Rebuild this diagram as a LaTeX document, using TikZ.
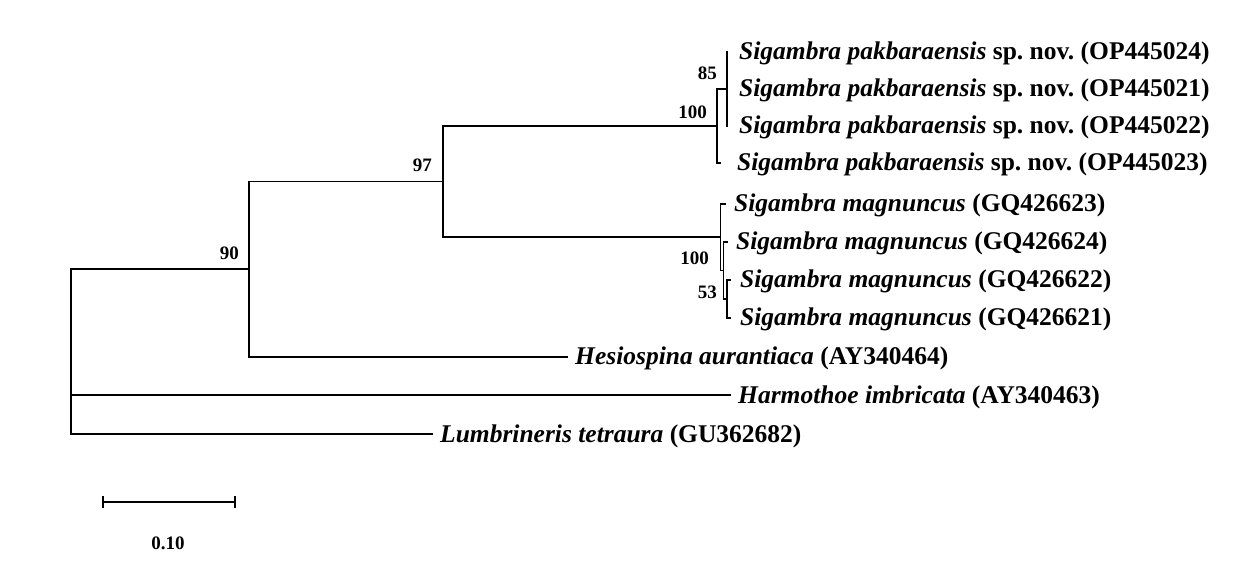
\documentclass[tikz,border=0pt]{standalone}
\usepackage{fontspec}
\setmainfont{Liberation Serif}
\frenchspacing
\begin{document}
\begin{tikzpicture}[x=1pt,y=-1pt,
  branch/.style={line width=1.9pt, line cap=rect},
  taxon/.style={anchor=base west, inner sep=0pt, font=\fontsize{25.5}{28}\selectfont\bfseries},
  boot/.style={anchor=east, inner sep=0pt, font=\fontsize{19}{21}\selectfont\bfseries}]
\useasboundingbox (0,0) rectangle (1240,585);
% tree coordinates
\coordinate (root) at (71,269);
\coordinate (n90) at (249,269);
\coordinate (n97) at (443,181.5);
\coordinate (hes) at (567,357);
\coordinate (pak100) at (717,126);
\coordinate (magn100) at (720.5,237);
\coordinate (n85) at (727,89);
\coordinate (p1) at (727,52);
\coordinate (p2) at (727,89);
\coordinate (p3) at (727,126);
\coordinate (p4) at (720.5,163);
\coordinate (m1) at (725,204);
\coordinate (nX) at (723.5,270.5);
\coordinate (m2) at (727,242);
\coordinate (n53) at (727,299);
\coordinate (m3) at (730.5,280);
\coordinate (m4) at (730.5,318);
\coordinate (harm) at (730,395);
\coordinate (lumb) at (432,434);
% branches
\draw[branch] (root) -- (n90);
\draw[branch] (root) |- (harm);
\draw[branch] (root) |- (lumb);
\draw[branch] (n90) |- (n97);
\draw[branch] (n90) |- (hes);
\draw[branch] (n97) |- (pak100);
\draw[branch] (n97) |- (magn100);
\draw[branch] (pak100) |- (n85);
\draw[branch] (pak100) |- (p4);
\draw[branch] (n85) |- (p1);
\draw[branch] (n85) |- (p3);
\draw[branch] (magn100) |- (m1);
\draw[branch] (magn100) |- (nX);
\draw[branch] (nX) |- (m2);
\draw[branch] (nX) |- (n53);
\draw[branch] (n53) |- (m3);
\draw[branch] (n53) |- (m4);
% taxon labels
\node[taxon] (tp1) at (739,60) {\textit{Sigambra pakbaraensis} sp. nov. (OP445024)};
\node[taxon] (tp2) at (739,97) {\textit{Sigambra pakbaraensis} sp. nov. (OP445021)};
\node[taxon] (tp3) at (739,134) {\textit{Sigambra pakbaraensis} sp. nov. (OP445022)};
\node[taxon] (tp4) at (737,171) {\textit{Sigambra pakbaraensis} sp. nov. (OP445023)};
\node[taxon] (tm1) at (734,212) {\textit{Sigambra magnuncus} (GQ426623)};
\node[taxon] (tm2) at (736,250) {\textit{Sigambra magnuncus} (GQ426624)};
\node[taxon] (tm3) at (740,288) {\textit{Sigambra magnuncus} (GQ426622)};
\node[taxon] (tm4) at (740,326) {\textit{Sigambra magnuncus} (GQ426621)};
\node[taxon] (thes) at (575,365) {\textit{Hesiospina aurantiaca} (AY340464)};
\node[taxon] (tharm) at (738,403) {\textit{Harmothoe imbricata} (AY340463)};
\node[taxon] (tlumb) at (440,442) {\textit{Lumbrineris tetraura} (GU362682)};
% bootstrap values
\node[boot] (b85) at (717,73) {85};
\node[boot] (b100a) at (707,112) {100};
\node[boot] (b97) at (432,165) {97};
\node[boot] (b90) at (239,253) {90};
\node[boot] (b100b) at (709,258) {100};
\node[boot] (b53) at (717,292) {53};
% scale bar
\coordinate (sb1) at (103,502);
\coordinate (sb2) at (235,502);
\draw[line width=1.6pt] (sb1) -- (sb2);
\draw[line width=1.6pt] ([yshift=6pt]sb1) -- ([yshift=-6pt]sb1);
\draw[line width=1.6pt] ([yshift=6pt]sb2) -- ([yshift=-6pt]sb2);
\node[inner sep=0pt, font=\fontsize{19}{21}\selectfont\bfseries] (sblabel) at (168,543) {0.10};
\end{tikzpicture}
\end{document}
